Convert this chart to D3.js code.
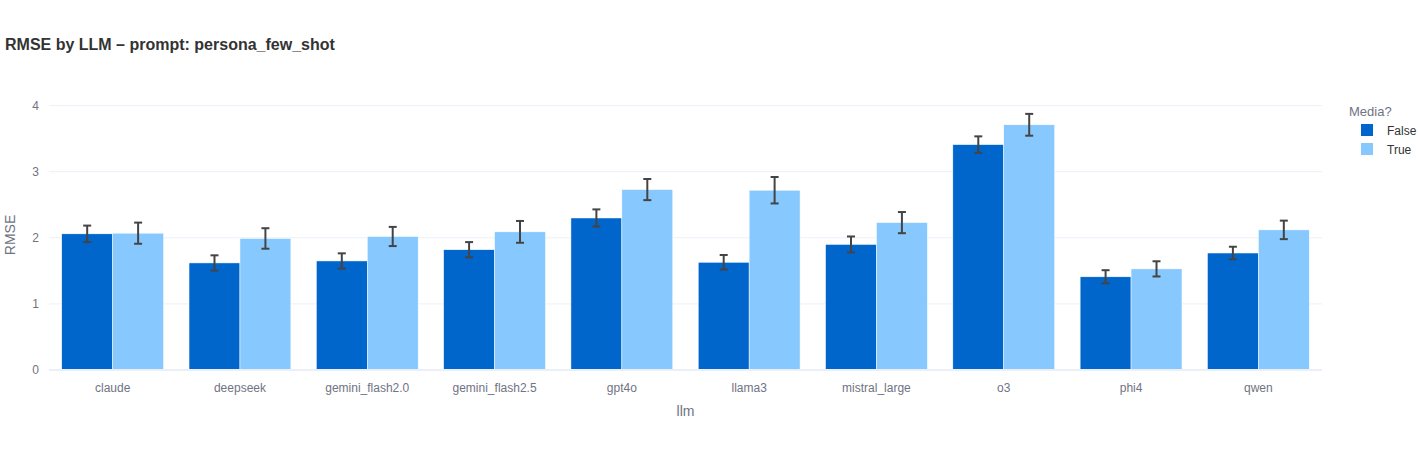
<!DOCTYPE html>
<html>
<head>
<meta charset="utf-8">
<script src="https://cdn.jsdelivr.net/npm/d3@7"></script>
<style>
  body { margin: 0; background: #fff; }
  svg { display: block; font-family: "Liberation Sans", Arial, Helvetica, sans-serif; }
</style>
</head>
<body>
<svg id="chart" width="1418" height="450"></svg>
<script>
const categories = ["claude","deepseek","gemini_flash2.0","gemini_flash2.5","gpt4o","llama3","mistral_large","o3","phi4","qwen"];
const seriesNames = ["False","True"];
const valuesFalse = [2.06,1.62,1.65,1.82,2.30,1.63,1.90,3.41,1.41,1.77];
const valuesTrue  = [2.07,1.99,2.02,2.09,2.73,2.72,2.23,3.71,1.53,2.12];
const errorsFalse = [0.125,0.115,0.115,0.115,0.13,0.11,0.12,0.125,0.10,0.095];
const errorsTrue  = [0.16,0.155,0.145,0.165,0.16,0.20,0.16,0.165,0.115,0.14];
const yTicks = [0,1,2,3,4];
const colors = ["#0066CC","#87C8FF"];

const svg = d3.select("#chart");
const margin = {left: 49, right: 96, top: 100, bottom: 80};
const W = 1418, H = 450;
const x0 = d3.scaleBand().domain(categories).range([margin.left, W - margin.right]).paddingInner(0.2).paddingOuter(0.1);
const x1 = d3.scaleBand().domain(seriesNames).range([0, x0.bandwidth()]);
const y = d3.scaleLinear().domain([0, 4.085]).range([H - margin.bottom, margin.top]);

const tickColor = "#6f7384";

// gridlines
svg.append("g").selectAll("line").data(yTicks.filter(d => d !== 0)).join("line")
  .attr("x1", margin.left).attr("x2", W - margin.right)
  .attr("y1", d => y(d)).attr("y2", d => y(d))
  .attr("stroke", "#EBF0F8").attr("stroke-width", 1);

// y axis ticks
const yAxis = d3.axisLeft(y).tickValues(yTicks).tickSize(0).tickPadding(10).tickFormat(d3.format("d"));
const gy = svg.append("g").attr("transform", `translate(${margin.left},0)`).call(yAxis);
gy.select(".domain").remove();
gy.selectAll("text").attr("fill", tickColor).style("font-size", "12px");

// bars
const data = categories.map((c, i) => ({
  cat: c,
  series: [
    {name: "False", v: valuesFalse[i], e: errorsFalse[i], color: colors[0]},
    {name: "True", v: valuesTrue[i], e: errorsTrue[i], color: colors[1]}
  ]
}));
const groups = svg.append("g").selectAll("g").data(data).join("g")
  .attr("transform", d => `translate(${x0(d.cat)},0)`);
groups.selectAll("rect").data(d => d.series).join("rect")
  .attr("x", d => x1(d.name))
  .attr("width", x1.bandwidth())
  .attr("y", d => y(d.v))
  .attr("height", d => y(0) - y(d.v))
  .attr("fill", d => d.color)
  .attr("stroke", "#fff").attr("stroke-width", 0.5);

// zero line
svg.append("line")
  .attr("x1", margin.left).attr("x2", W - margin.right)
  .attr("y1", y(0)).attr("y2", y(0))
  .attr("stroke", "#EBF0F8").attr("stroke-width", 2);

// error bars
const eb = groups.selectAll("g.err").data(d => d.series).join("g").attr("class", "err");
const cx = d => x1(d.name) + x1.bandwidth() / 2;
eb.append("line").attr("x1", cx).attr("x2", cx)
  .attr("y1", d => y(d.v + d.e)).attr("y2", d => y(d.v - d.e))
  .attr("stroke", "#444").attr("stroke-width", 2);
eb.append("line").attr("x1", d => cx(d) - 4).attr("x2", d => cx(d) + 4)
  .attr("y1", d => y(d.v + d.e)).attr("y2", d => y(d.v + d.e))
  .attr("stroke", "#444").attr("stroke-width", 2);
eb.append("line").attr("x1", d => cx(d) - 4).attr("x2", d => cx(d) + 4)
  .attr("y1", d => y(d.v - d.e)).attr("y2", d => y(d.v - d.e))
  .attr("stroke", "#444").attr("stroke-width", 2);

// x axis
const xAxis = d3.axisBottom(x0).tickSize(0).tickPadding(13);
const gx = svg.append("g").attr("transform", `translate(0,${y(0)})`).call(xAxis);
gx.select(".domain").remove();
gx.selectAll("text").attr("fill", tickColor).style("font-size", "12px");

// axis titles
svg.append("text").attr("x", (margin.left + W - margin.right) / 2).attr("y", 416)
  .attr("text-anchor", "middle").attr("fill", tickColor).style("font-size", "14px").text("llm");
svg.append("text").attr("transform", `translate(15,${(margin.top + H - margin.bottom) / 2}) rotate(-90)`)
  .attr("text-anchor", "middle").attr("fill", tickColor).style("font-size", "14px").text("RMSE");

// title
svg.append("text").attr("x", 5).attr("y", 50)
  .attr("fill", "#333").style("font-size", "16px").style("font-weight", "bold")
  .text("RMSE by LLM – prompt: persona_few_shot");

// legend
const lg = svg.append("g");
lg.append("text").attr("x", 1349).attr("y", 116).attr("fill", tickColor).style("font-size", "13px").text("Media?");
const items = lg.selectAll("g.item").data(seriesNames).join("g").attr("class", "item")
  .attr("transform", (d, i) => `translate(1361,${124 + i * 19})`);
items.append("rect").attr("width", 12).attr("height", 12).attr("fill", (d, i) => colors[i]);
items.append("text").attr("x", 26).attr("y", 11).attr("fill", "#333").style("font-size", "12px").text(d => d);
</script>
</body>
</html>
